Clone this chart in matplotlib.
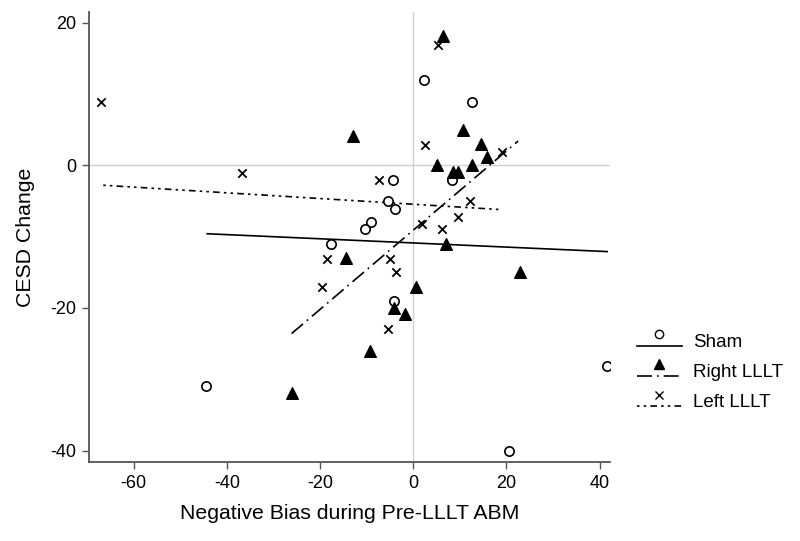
import numpy as np
import matplotlib
matplotlib.use("Agg")
import matplotlib.pyplot as plt
from matplotlib.legend_handler import HandlerLine2DCompound
from matplotlib.lines import Line2D

plt.rcParams['font.family'] = ['Liberation Sans', 'DejaVu Sans']
plt.rcParams['axes.unicode_minus'] = False

# Sham (open circles)
sham_x = [2.4, 12.7, 8.4, -4.4, -5.5, -3.9, -9.1, -10.3, -17.6, -4.1, -44.4, 41.6, 20.6]
sham_y = [12.0, 8.9, -2.0, -2.1, -5.0, -6.1, -8.0, -9.0, -11.1, -19.0, -31.0, -28.1, -40.0]

# Right LLLT (filled triangles)
right_x = [6.4, -13.0, 10.7, 14.5, 15.9, 12.6, 5.1, 8.6, 9.6, 7.0, -14.5, 22.9, 0.6, -4.1, -1.7, -9.2, -26.1]
right_y = [18.1, 4.1, 5.0, 3.0, 1.1, 0.1, 0.1, -0.9, -0.9, -11.0, -13.0, -15.0, -17.0, -20.0, -20.9, -26.0, -31.9]

# Left LLLT (x marks)
left_x = [-66.9, -36.7, 5.4, 2.5, 19.1, -7.3, 12.2, 9.7, 1.8, 6.1, -18.5, -19.6, -4.9, -3.7, -5.5]
left_y = [8.9, -1.1, 16.9, 2.9, 1.9, -2.1, -5.0, -7.2, -8.2, -9.0, -13.1, -17.1, -13.1, -15.0, -23.0]

# fitted lines (start/end)
sham_fit_x = [-44.2, 41.6]
sham_fit_y = [-9.6, -12.1]
right_fit_x = [-26.1, 22.5]
right_fit_y = [-23.6, 3.4]
left_fit_x = [-66.5, 18.4]
left_fit_y = [-2.8, -6.2]

labels = ["Sham", "Right LLLT", "Left LLLT"]

fig = plt.figure(figsize=(8, 5.41), dpi=100)
ax = fig.add_axes([0.111, 0.146, 0.652, 0.832])

ax.axhline(0, color='#d0d0d0', lw=1, zorder=0)
ax.axvline(0, color='#d0d0d0', lw=1, zorder=0)

ax.scatter(sham_x, sham_y, marker='o', s=45, facecolors='white', edgecolors='black', linewidths=1.2, zorder=3)
ax.scatter(right_x, right_y, marker='^', s=70, color='black', zorder=3)
ax.scatter(left_x, left_y, marker='x', s=36, color='black', linewidths=1.3, zorder=3)

ax.plot(sham_fit_x, sham_fit_y, color='black', lw=1.2)
ax.plot(right_fit_x, right_fit_y, color='black', lw=1.2, dashes=(9, 3, 1, 3))
ax.plot(left_fit_x, left_fit_y, color='black', lw=1.2, dashes=(1.5, 2.5, 1.5, 2.5, 4, 2.5))

ax.set_xlim(-69.6, 42.3)
ax.set_ylim(-41.6, 21.5)
ax.set_xticks([-60, -40, -20, 0, 20, 40])
ax.set_yticks([20, 0, -20, -40])

for s in ['top', 'right']:
    ax.spines[s].set_visible(False)
for s in ['left', 'bottom']:
    ax.spines[s].set_color('#555555')
    ax.spines[s].set_linewidth(1.3)
ax.tick_params(direction='out', length=5, width=1, color='#555555', labelsize=13, pad=4)

ax.set_xlabel("Negative Bias during Pre-LLLT ABM", fontsize=15.3, labelpad=9)
ax.set_ylabel("CESD Change", fontsize=15.3, labelpad=11)


class MarkerAbove(HandlerLine2DCompound):
    def create_artists(self, legend, orig_handle, xdescent, ydescent, width, height, fontsize, trans):
        arts = super().create_artists(legend, orig_handle, xdescent, ydescent, width, height, fontsize, trans)
        line, mark = arts
        line.set_ydata(np.array(line.get_ydata()) - height * 0.45)
        mark.set_ydata(np.array(mark.get_ydata()) + height * 0.45)
        return arts


h1 = Line2D([], [], color='black', lw=1.2, marker='o', markerfacecolor='white', markeredgecolor='black', markersize=6)
h2 = Line2D([], [], color='black', lw=1.2, dashes=(9, 3, 1, 3), marker='^', markersize=7)
h3 = Line2D([], [], color='black', lw=1.2, dashes=(1.5, 2.5, 1.5, 2.5, 4, 2.5), marker='x', markersize=6)

fig.legend([h1, h2, h3], labels, loc='center left', bbox_to_anchor=(0.775, 0.312),
           frameon=False, fontsize=13.5, numpoints=1, handlelength=2.4, handletextpad=0.6,
           labelspacing=0.7, handler_map={Line2D: MarkerAbove()})

fig.savefig("out.png", dpi=100)
